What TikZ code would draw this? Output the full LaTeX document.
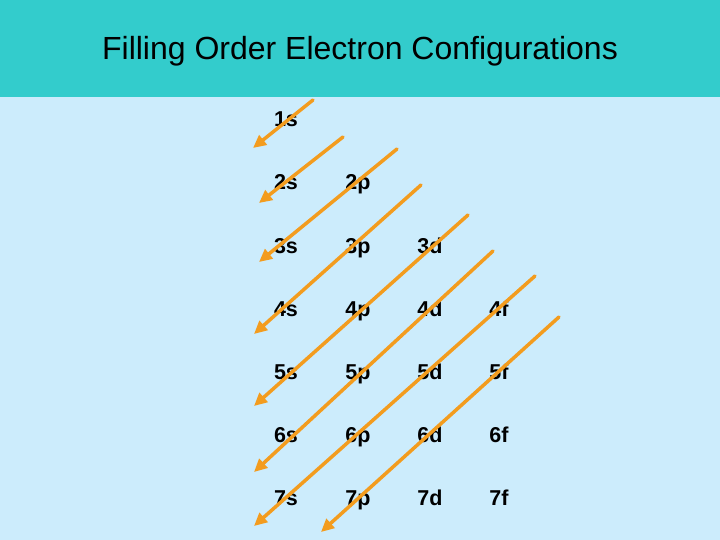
\documentclass[tikz,border=0pt]{standalone}
\usepackage{fontspec}
\setmainfont{Liberation Sans}
\usetikzlibrary{arrows.meta}
\definecolor{bandteal}{RGB}{51,204,204}
\definecolor{paleblue}{RGB}{204,236,252}
\definecolor{arroworange}{RGB}{243,156,30}

\begin{document}
\begin{tikzpicture}[x=1pt, y=-1pt,
    orb/.style={font=\fontsize{21.5}{24}\selectfont\bfseries, inner sep=0pt, anchor=base},
    titletext/.style={font=\fontsize{32}{36}\selectfont, inner sep=0pt, anchor=base},
    order/.style={draw=arroworange, line width=3.5pt, line cap=round,
      -{Triangle[length=13pt, width=12pt]}}]
	\useasboundingbox (0,0) rectangle (720,540);
	\fill[paleblue] (0,0) rectangle (720,540);
	\fill[bandteal] (0,0) rectangle (720,97);
	\node[titletext] (title) at (360,60) {Filling Order Electron Configurations};
	% orbital grid
	\foreach \l/\x/\first in {s/286/1, p/358/2, d/430/3, f/499/4} {
		\foreach \n in {\first,...,7} {
			\node[orb] (\l\n) at (\x,{127+(\n-1)*63}) {\n\l};
		}
	}
	% filling order
	\foreach \sx/\sy/\tx/\ty [count=\k] in {313/100/253/148, 343/137/259/203,
			397/149/259/262, 421/185/254/334, 468/215/254/406,
			493/251/254/472, 535/276/254/526, 559/317/321/532} {
		\coordinate (top\k) at (\sx,\sy);
		\coordinate (tip\k) at (\tx,\ty);
		\draw[order] (top\k) -- (tip\k);
	}
\end{tikzpicture}
\end{document}
